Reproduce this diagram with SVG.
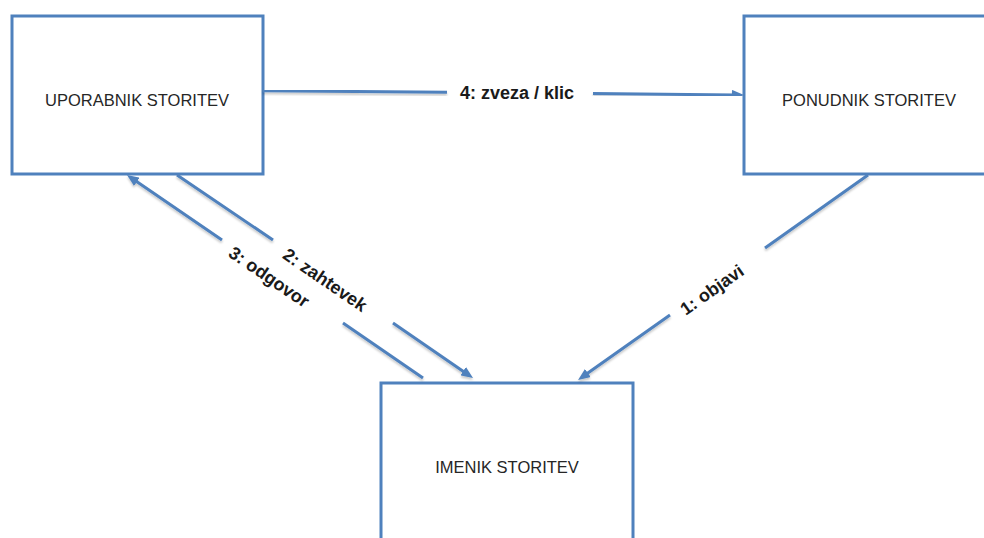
<svg xmlns="http://www.w3.org/2000/svg" width="984" height="538" viewBox="0 0 984 538">
  <style>
    .box { fill: #ffffff; stroke: #4f81bd; stroke-width: 3; }
    .name { font-family: "Liberation Sans", Arial, sans-serif; font-size: 16.5px; fill: #262626; text-anchor: middle; dominant-baseline: central; }
    .conn { fill: none; stroke: #4f81bd; stroke-width: 3; filter: url(#shade); }
    .lbl { font-family: "Liberation Sans", Arial, sans-serif; font-size: 18px; font-weight: bold; fill: #1a1a1a; text-anchor: middle; dominant-baseline: central; }
  </style>
  <defs>
    <marker id="arrow" viewBox="0 0 12 10" refX="3" refY="5" markerWidth="12" markerHeight="10" markerUnits="userSpaceOnUse" orient="auto">
      <path d="M0,0 L12,5 L0,10 z" fill="#4f81bd"/>
    </marker>
    <filter id="shade" x="-10%" y="-10%" width="120%" height="130%">
      <feDropShadow dx="0" dy="2" stdDeviation="1" flood-color="#000000" flood-opacity="0.22"/>
    </filter>
  </defs>

  <rect width="984" height="538" fill="#ffffff"/>

  <g id="uporabnik">
    <rect class="box" x="12" y="16" width="251" height="158"/>
    <text class="name" x="137" y="100">UPORABNIK STORITEV</text>
  </g>

  <g id="ponudnik">
    <rect class="box" x="744" y="16" width="251" height="158"/>
    <text class="name" x="869" y="100">PONUDNIK STORITEV</text>
  </g>

  <g id="imenik">
    <rect class="box" x="381" y="383" width="252" height="158"/>
    <text class="name" x="507" y="467">IMENIK STORITEV</text>
  </g>

  <g id="connectors">
    <!-- 4: zveza / klic -->
    <path class="conn" d="M263,90.7 L447,92.3 M593,93.6 L735,94.9" marker-end="url(#arrow)"/>
    <text class="lbl" x="517" y="93">4: zveza / klic</text>

    <!-- 1: objavi -->
    <path class="conn" d="M868,175 L765,248 M670,315 L585.4,374.8" marker-end="url(#arrow)"/>
    <text class="lbl" x="712" y="290" transform="rotate(-35.3 712 290)">1: objavi</text>

    <!-- 2: zahtevek -->
    <path class="conn" d="M177,175 L273,240 M393,323 L465.6,372.9" marker-end="url(#arrow)"/>
    <text class="lbl" x="325" y="280" transform="rotate(34.4 325 280)">2: zahtevek</text>

    <!-- 3: odgovor -->
    <path class="conn" d="M423,378 L343,323 M222,240 L134.4,180.1" marker-end="url(#arrow)"/>
    <text class="lbl" x="269" y="277" transform="rotate(34.4 269 277)">3: odgovor</text>
  </g>
</svg>
